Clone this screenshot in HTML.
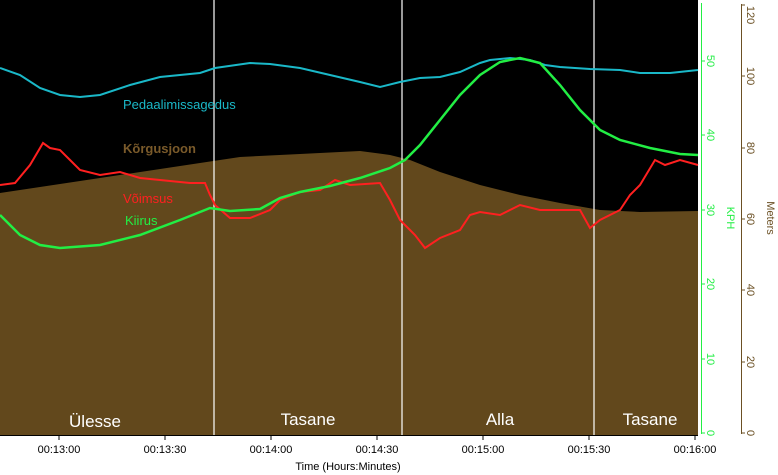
<!DOCTYPE html>
<html><head><meta charset="utf-8"><style>
body{margin:0;background:#fff;}
svg{display:block;font-family:"Liberation Sans",sans-serif;}
</style></head><body>
<svg width="778" height="475" viewBox="0 0 778 475">
<rect x="0" y="0" width="698" height="435" fill="#000"/>
<polygon fill="#62481c" points="0,193 100,178 200,163 240,157 300,154 360,151 390,155 410,160 440,172 480,185 520,195 560,203 600,210 640,212 698,211 698,435 0,435"/>
<g stroke="#fff" stroke-width="1.2"><line x1="214" y1="0" x2="214" y2="435"/><line x1="402" y1="0" x2="402" y2="435"/><line x1="594" y1="0" x2="594" y2="435"/></g>
<polyline fill="none" stroke="#1ab8c8" stroke-width="2" points="0,68 20,75 40,88 60,95 80,97 100,95 130,85 160,77 200,73 215,68 250,63 270,64 300,68 330,75 360,82 380,87 400,82 420,78 440,77 460,72 480,63 490,60 510,58 530,60 545,65 560,67 590,69 620,70 640,73 670,73 698,70"/>
<polyline fill="none" stroke="#ff2020" stroke-width="2" points="0,185 15,183 30,165 43,143 50,148 60,150 70,160 80,170 100,175 120,172 140,178 160,180 190,183 205,183 210,195 215,205 230,218 250,218 270,210 280,200 300,192 320,190 335,180 350,185 380,183 390,200 400,220 415,235 425,248 440,238 460,230 470,215 480,212 500,215 520,205 540,210 560,210 580,210 590,228 600,220 620,210 630,195 640,185 655,160 665,165 680,160 698,165"/>
<polyline fill="none" stroke="#22ee44" stroke-width="2.5" points="0,215 20,235 40,245 60,248 100,245 140,235 180,220 210,208 230,211 260,209 280,198 300,192 330,186 360,178 390,168 405,160 420,145 440,120 460,95 480,75 500,62 520,58 540,63 560,85 580,110 600,130 620,140 650,148 680,154 698,155"/>
<g font-size="13">
<text x="123" y="109" fill="#1ab8c8">Pedaalimissagedus</text>
<text x="123" y="153" fill="#7a5a2a" font-weight="bold">Kõrgusjoon</text>
<text x="123" y="203" fill="#ff2020">Võimsus</text>
<text x="125" y="225" fill="#22ee44">Kiirus</text>
</g>
<g font-size="17" fill="#fff" text-anchor="middle">
<text x="95" y="427">Ülesse</text><text x="308" y="425">Tasane</text><text x="500" y="425">Alla</text><text x="650" y="425">Tasane</text>
</g>
<line x1="0" y1="435.5" x2="698" y2="435.5" stroke="#000"/>
<g stroke="#000"><line x1="59" y1="436" x2="59" y2="440"/><line x1="165" y1="436" x2="165" y2="440"/><line x1="271" y1="436" x2="271" y2="440"/><line x1="377" y1="436" x2="377" y2="440"/><line x1="483" y1="436" x2="483" y2="440"/><line x1="589" y1="436" x2="589" y2="440"/><line x1="695" y1="436" x2="695" y2="440"/></g>
<g font-size="11" fill="#000" text-anchor="middle">
<text x="59" y="453">00:13:00</text><text x="165" y="453">00:13:30</text><text x="271" y="453">00:14:00</text><text x="377" y="453">00:14:30</text><text x="483" y="453">00:15:00</text><text x="589" y="453">00:15:30</text><text x="695" y="453">00:16:00</text>
<text x="348" y="470">Time (Hours:Minutes)</text>
</g>
<line x1="701.5" y1="3" x2="701.5" y2="434" stroke="#22ee44"/>
<g stroke="#22ee44"><line x1="701" y1="433" x2="705" y2="433"/><line x1="701" y1="359" x2="705" y2="359"/><line x1="701" y1="284" x2="705" y2="284"/><line x1="701" y1="210" x2="705" y2="210"/><line x1="701" y1="135" x2="705" y2="135"/><line x1="701" y1="61" x2="705" y2="61"/></g>
<g font-size="11" fill="#22ee44" text-anchor="middle">
<text transform="translate(707,433) rotate(90)">0</text><text transform="translate(707,359) rotate(90)">10</text><text transform="translate(707,284) rotate(90)">20</text><text transform="translate(707,210) rotate(90)">30</text><text transform="translate(707,135) rotate(90)">40</text><text transform="translate(707,61) rotate(90)">50</text>
<text transform="translate(727,218) rotate(90)">KPH</text>
</g>
<line x1="741.5" y1="4" x2="741.5" y2="434" stroke="#6b5024"/>
<g stroke="#6b5024"><line x1="741" y1="433" x2="745" y2="433"/><line x1="741" y1="362" x2="745" y2="362"/><line x1="741" y1="290" x2="745" y2="290"/><line x1="741" y1="219" x2="745" y2="219"/><line x1="741" y1="148" x2="745" y2="148"/><line x1="741" y1="76" x2="745" y2="76"/><line x1="741" y1="5" x2="745" y2="5"/></g>
<g font-size="11" fill="#6b5024" text-anchor="middle">
<text transform="translate(747,433) rotate(90)">0</text><text transform="translate(747,362) rotate(90)">20</text><text transform="translate(747,290) rotate(90)">40</text><text transform="translate(747,219) rotate(90)">60</text><text transform="translate(747,148) rotate(90)">80</text><text transform="translate(747,76) rotate(90)">100</text><text transform="translate(747,15) rotate(90)">120</text>
<text transform="translate(767,218) rotate(90)">Meters</text>
</g>
</svg>
</body></html>
